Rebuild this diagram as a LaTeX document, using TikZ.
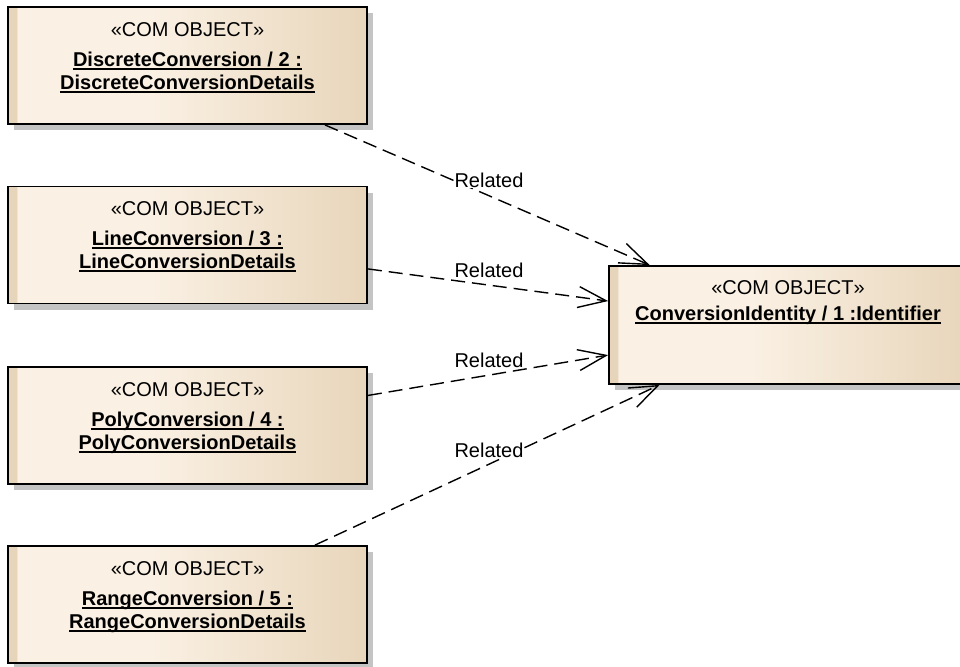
\documentclass[tikz,border=0pt]{standalone}
\usepackage{fontspec}
\setmainfont{Liberation Sans}
\usetikzlibrary{arrows.meta,shadows}

\definecolor{eaCream}{HTML}{FAF0E3}
\definecolor{eaTan}{HTML}{E8D6BB}
\definecolor{eaStrip}{HTML}{E6D5BA}
\definecolor{eaShadow}{HTML}{C4C4C4}

\pgfdeclarehorizontalshading{eabox}{100bp}{color(0bp)=(eaStrip); color(26.2bp)=(eaStrip);
  color(26.3bp)=(eaCream); color(45bp)=(eaCream); color(75bp)=(eaTan); color(100bp)=(eaTan)}

\newcommand{\objname}[1]{\leavevmode\setbox0\hbox{\bfseries #1}\rlap{\rule[-3.3pt]{\wd0}{1.8pt}}\box0}

\begin{document}
\begin{tikzpicture}[x=1pt, y=-1pt, font=\fontsize{20}{23}\selectfont,
  >={Straight Barb[length=28pt,width=21pt]}]

\tikzset{
  object/.style={draw, line width=1.8pt, rectangle, minimum width=359pt, minimum height=117pt,
    shading=eabox, general shadow={fill=eaShadow, shadow xshift=6pt, shadow yshift=-6pt}},
  objtext/.style={anchor=north, align=center, inner sep=0pt},
  rel/.style={->, line width=1.4pt, dash pattern=on 14pt off 7pt},
  relname/.style={fill=white, inner sep=1pt}
}

\useasboundingbox (0,0) rectangle (960,666);
\clip (0,0) rectangle (960,666);

% Identifier
\node[object, minimum width=358pt, minimum height=118pt] (ident) at (788,325) {};
\node[objtext] (identText) at ([yshift=-15pt]ident.north) {«COM OBJECT»\\[3pt]\objname{ConversionIdentity / 1 :Identifier}};

% Conversion details
\node[object] (discrete) at (187.5,65.5) {};
\node[objtext] (discreteText) at ([yshift=-16pt]discrete.north) {«COM OBJECT»\\[7pt]\objname{DiscreteConversion / 2 :}\\\objname{DiscreteConversionDetails}};

\node[object] (line) at (187.5,245) {};
\node[objtext] (lineText) at ([yshift=-16pt]line.north) {«COM OBJECT»\\[7pt]\objname{LineConversion / 3 :}\\\objname{LineConversionDetails}};

\node[object] (poly) at (187.5,425.5) {};
\node[objtext] (polyText) at ([yshift=-16pt]poly.north) {«COM OBJECT»\\[7pt]\objname{PolyConversion / 4 :}\\\objname{PolyConversionDetails}};

\node[object] (range) at (187.5,604.5) {};
\node[objtext] (rangeText) at ([yshift=-16pt]range.north) {«COM OBJECT»\\[7pt]\objname{RangeConversion / 5 :}\\\objname{RangeConversionDetails}};

% Related links
\draw[rel] (discrete) -- (ident);
\draw[rel] (line) -- (ident);
\draw[rel] (poly) -- (ident);
\draw[rel] (range) -- (ident);

\node[relname] (relDiscrete) at (489,180) {Related};
\node[relname] (relLine) at (489,270) {Related};
\node[relname] (relPoly) at (489,360) {Related};
\node[relname] (relRange) at (489,450) {Related};

\end{tikzpicture}
\end{document}
